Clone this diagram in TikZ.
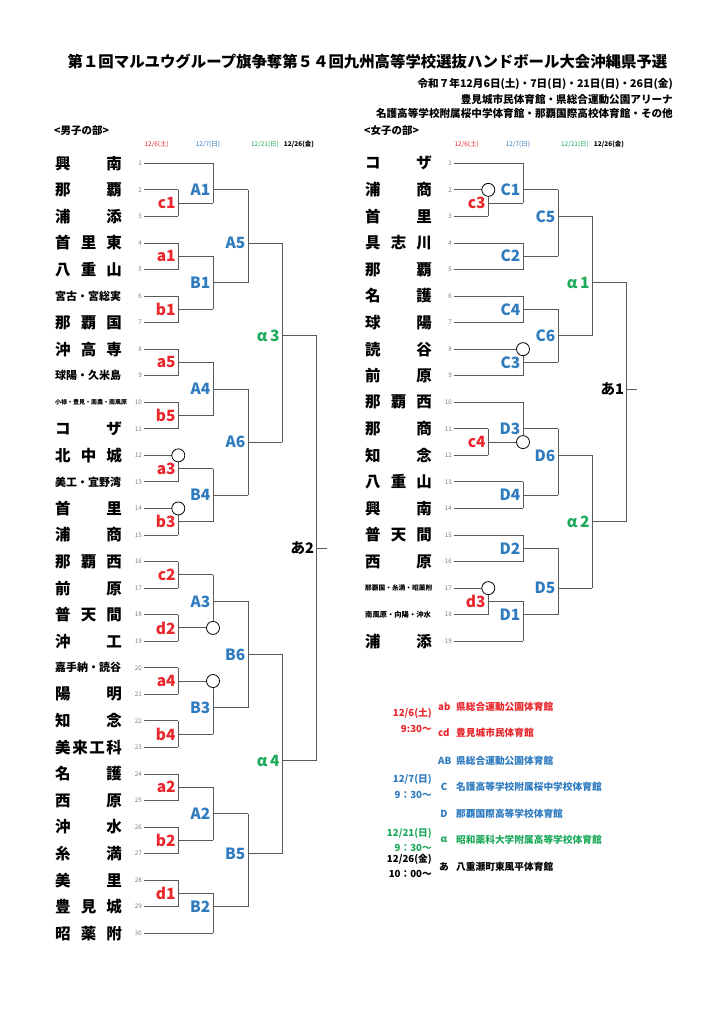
\documentclass[tikz,border=0pt]{standalone}
\usepackage{fontspec}
\setmainfont{Noto Sans CJK JP}
\definecolor{cred}{HTML}{E8262B}
\definecolor{cblue}{HTML}{2E7BBF}
\definecolor{cgreen}{HTML}{1DAA5B}
\definecolor{cline}{HTML}{5A5A5A}
\newcommand\ry[1]{163.3+(#1-1)*26.55}
\tikzset{
  br/.style={draw=cline, line width=0.9pt},
  numlab/.style={font=\fontsize{6.3}{6.5}\selectfont, text=gray, anchor=east, inner sep=0pt},
  teamname/.style={font=\fontsize{15.5}{16}\selectfont\bfseries, anchor=west, inner sep=0pt},
  redlab/.style={font=\fontsize{15.5}{16}\selectfont\bfseries, text=cred, inner sep=0pt},
  bluelab/.style={font=\fontsize{15.5}{16}\selectfont\bfseries, text=cblue, inner sep=0pt},
  greenlab/.style={font=\fontsize{15.5}{16}\selectfont\bfseries, text=cgreen, inner sep=0pt},
  blacklab/.style={font=\fontsize{14.5}{16}\selectfont\bfseries, text=black, inner sep=0pt},
  ring/.style={draw=black, line width=0.8pt, fill=white, circle, minimum size=13pt, inner sep=0pt},
  datehead/.style={font=\fontsize{6.5}{7}\selectfont, inner sep=0pt},
  leg/.style={font=\fontsize{9.7}{11}\selectfont\bfseries, inner sep=0pt},
}
% match: name, x of vertical, top row, bottom row, out row, next x, label, label style
\newcommand\mt[8]{%
  \coordinate (#1-t) at (#2,{\ry{#3}});
  \coordinate (#1-b) at (#2,{\ry{#4}});
  \coordinate (#1-o) at (#2,{\ry{#5}});
  \coordinate (#1-n) at (#6,{\ry{#5}});
  \draw[br] (#1-t) -- (#1-b);
  \draw[br] (#1-o) -- (#1-n);
  \node[#8, anchor=east] (#1) at ([xshift=-2.5pt]#1-o) {#7};
}
\newcommand\tm[3]{\node[teamname] (t#1-#2) at (#1,{\ry{#2}}) {\makebox[66.7pt][s]{#3}};}
\newcommand\tms[4]{\node[teamname, font=\fontsize{#3}{#3}\selectfont\bfseries] (t#1-#2) at (#1,{\ry{#2}}) {#4};}
\begin{document}
\begin{tikzpicture}[x=1pt,y=-1pt]
\useasboundingbox[fill=white] (0,0) rectangle (724,1024);

% ---------- title block ----------
\node[font=\fontsize{15.4}{16}\selectfont\bfseries, inner sep=0pt] (title) at (367.5,62) {第１回マルユウグループ旗争奪第５４回九州高等学校選抜ハンドボール大会沖縄県予選};
\node[font=\fontsize{10.6}{11}\selectfont\bfseries, anchor=east, inner sep=0pt] (sub1) at (673,84) {令和７年12月6日(土)・7日(日)・21日(日)・26日(金)};
\node[font=\fontsize{10.6}{11}\selectfont\bfseries, anchor=east, inner sep=0pt] (sub2) at (673,99) {豊見城市民体育館・県総合運動公園アリーナ};
\node[font=\fontsize{10.6}{11}\selectfont\bfseries, anchor=east, inner sep=0pt] (sub3) at (673,113) {名護高等学校附属桜中学体育館・那覇国際高校体育館・その他};

\node[font=\fontsize{10.5}{11}\selectfont\bfseries, anchor=west, inner sep=0pt] (hm) at (54,131) {<男子の部>};
\node[font=\fontsize{10.5}{11}\selectfont\bfseries, anchor=west, inner sep=0pt] (hw) at (364,131) {<女子の部>};

\foreach \o/\n in {0/m,310/w}{
  \node[datehead, text=cred] (\n d1) at (156.7+\o,144) {12/6(土)};
  \node[datehead, text=cblue] (\n d2) at (208+\o,144) {12/7(日)};
  \node[datehead, text=cgreen] (\n d3) at (265+\o,144) {12/21(日)};
  \node[datehead, font=\fontsize{6.5}{7}\selectfont\bfseries] (\n d4) at (299+\o,144) {12/26(金)};
}

% ---------- men: entrants ----------
\foreach \i in {1,...,30}{
  \node[numlab] (mn\i) at (142,{\ry{\i}}) {\i};
}
\foreach \i/\e in {1/213,2/178.3,3/178.3,4/178.3,5/178.3,6/178.3,7/178.3,8/178.3,9/178.3,10/178.3,11/178.3,12/178.3,13/178.3,14/178.3,15/178.3,16/178.3,17/178.3,18/178.3,19/178.3,20/178.3,21/178.3,22/178.3,23/178.3,24/178.3,25/178.3,26/178.3,27/178.3,28/178.3,29/178.3,30/213}{
  \draw[br] (144,{\ry{\i}}) -- (\e,{\ry{\i}});
}
% men matches
\mt{c1}{178.3}{2}{3}{2.5}{213}{c1}{redlab}
\mt{A1}{213}{1}{2.5}{2}{248}{A1}{bluelab}
\mt{a1}{178.3}{4}{5}{4.5}{213}{a1}{redlab}
\mt{b1}{178.3}{6}{7}{6.5}{213}{b1}{redlab}
\mt{B1}{213}{4.5}{6.5}{5.5}{248}{B1}{bluelab}
\mt{A5}{248}{2}{5.5}{4}{282.3}{A5}{bluelab}
\mt{a5}{178.3}{8}{9}{8.5}{213}{a5}{redlab}
\mt{b5}{178.3}{10}{11}{10.5}{213}{b5}{redlab}
\mt{A4}{213}{8.5}{10.5}{9.5}{248}{A4}{bluelab}
\mt{a3}{178.3}{12}{13}{12.5}{213}{a3}{redlab}
\mt{b3}{178.3}{14}{15}{14.5}{213}{b3}{redlab}
\mt{B4}{213}{12.5}{14.5}{13.5}{248}{B4}{bluelab}
\mt{A6}{248}{9.5}{13.5}{11.5}{282.3}{A6}{bluelab}
\mt{al3}{282.3}{4}{11.5}{7.5}{316.7}{α\,3}{greenlab}
\mt{c2}{178.3}{16}{17}{16.5}{213}{c2}{redlab}
\mt{d2}{178.3}{18}{19}{18.5}{213}{d2}{redlab}
\mt{A3}{213}{16.5}{18.5}{17.5}{248}{A3}{bluelab}
\mt{a4}{178.3}{20}{21}{20.5}{213}{a4}{redlab}
\mt{b4}{178.3}{22}{23}{22.5}{213}{b4}{redlab}
\mt{B3}{213}{20.5}{22.5}{21.5}{248}{B3}{bluelab}
\mt{B6}{248}{17.5}{21.5}{19.5}{282.3}{B6}{bluelab}
\mt{a2}{178.3}{24}{25}{24.5}{213}{a2}{redlab}
\mt{b2}{178.3}{26}{27}{26.5}{213}{b2}{redlab}
\mt{A2}{213}{24.5}{26.5}{25.5}{248}{A2}{bluelab}
\mt{d1}{178.3}{28}{29}{28.5}{213}{d1}{redlab}
\mt{B2}{213}{28.5}{30}{29}{248}{B2}{bluelab}
\mt{B5}{248}{25.5}{29}{27}{282.3}{B5}{bluelab}
\mt{al4}{282.3}{19.5}{27}{23.5}{316.7}{α\,4}{greenlab}
\mt{ah2}{316.7}{7.5}{23.5}{15.5}{326.7}{あ2}{blacklab}
% men circles
\node[ring] (mc1) at (178.3,{\ry{12}}) {};
\node[ring] (mc2) at (178.3,{\ry{14}}) {};
\node[ring] (mc3) at (213,{\ry{18.5}}) {};
\node[ring] (mc4) at (213,{\ry{20.5}}) {};

% men names
\tm{55}{1}{興\hfill 南}
\tm{55}{2}{那\hfill 覇}
\tm{55}{3}{浦\hfill 添}
\tm{55}{4}{首\hfill 里\hfill 東}
\tm{55}{5}{八\hfill 重\hfill 山}
\tms{55}{6}{11}{宮古・宮総実}
\tm{55}{7}{那\hfill 覇\hfill 国}
\tm{55}{8}{沖\hfill 高\hfill 専}
\tms{55}{9}{11}{球陽・久米島}
\tms{55}{10}{6}{小禄・豊見・南農・南風原}
\tm{55}{11}{コ\hfill ザ}
\tm{55}{12}{北\hfill 中\hfill 城}
\tms{55}{13}{11}{美工・宜野湾}
\tm{55}{14}{首\hfill 里}
\tm{55}{15}{浦\hfill 商}
\tm{55}{16}{那\hfill 覇\hfill 西}
\tm{55}{17}{前\hfill 原}
\tm{55}{18}{普\hfill 天\hfill 間}
\tm{55}{19}{沖\hfill 工}
\tms{55}{20}{11}{嘉手納・読谷}
\tm{55}{21}{陽\hfill 明}
\tm{55}{22}{知\hfill 念}
\tm{55}{23}{美\hfill 来\hfill 工\hfill 科}
\tm{55}{24}{名\hfill 護}
\tm{55}{25}{西\hfill 原}
\tm{55}{26}{沖\hfill 水}
\tm{55}{27}{糸\hfill 満}
\tm{55}{28}{美\hfill 里}
\tm{55}{29}{豊\hfill 見\hfill 城}
\tm{55}{30}{昭\hfill 薬\hfill 附}

% ---------- women: entrants ----------
\foreach \i in {1,...,19}{
  \node[numlab] (wn\i) at (452,{\ry{\i}}) {\i};
}
\foreach \i/\e in {1/523,2/488.3,3/488.3,4/523,5/523,6/523,7/523,8/523,9/523,10/523,11/488.3,12/488.3,13/523,14/523,15/523,16/523,17/488.3,18/488.3,19/523}{
  \draw[br] (454,{\ry{\i}}) -- (\e,{\ry{\i}});
}
\mt{c3}{488.3}{2}{3}{2.5}{523}{c3}{redlab}
\mt{C1}{523}{1}{2.5}{2}{558}{C1}{bluelab}
\mt{C2}{523}{4}{5}{4.5}{558}{C2}{bluelab}
\mt{C5}{558}{2}{4.5}{3}{592.3}{C5}{bluelab}
\mt{C4}{523}{6}{7}{6.5}{558}{C4}{bluelab}
\mt{C3}{523}{8}{9}{8.5}{558}{C3}{bluelab}
\mt{C6}{558}{6.5}{8.5}{7.5}{592.3}{C6}{bluelab}
\mt{al1}{592.3}{3}{7.5}{5.5}{626.7}{α\,1}{greenlab}
\mt{c4}{488.3}{11}{12}{11.5}{523}{c4}{redlab}
\mt{D3}{523}{10}{11.5}{11}{558}{D3}{bluelab}
\mt{D4}{523}{13}{14}{13.5}{558}{D4}{bluelab}
\mt{D6}{558}{11}{13.5}{12}{592.3}{D6}{bluelab}
\mt{D2}{523}{15}{16}{15.5}{558}{D2}{bluelab}
\mt{d3}{488.3}{17}{18}{17.5}{523}{d3}{redlab}
\mt{D1}{523}{17.5}{19}{18}{558}{D1}{bluelab}
\mt{D5}{558}{15.5}{18}{17}{592.3}{D5}{bluelab}
\mt{al2}{592.3}{12}{17}{14.5}{626.7}{α\,2}{greenlab}
\mt{ah1}{626.7}{5.5}{14.5}{9.5}{636.7}{あ1}{blacklab}
% women circles
\node[ring] (wc1) at (488.3,{\ry{2}}) {};
\node[ring] (wc2) at (523,{\ry{8}}) {};
\node[ring] (wc3) at (523,{\ry{11.5}}) {};
\node[ring] (wc4) at (488.3,{\ry{17}}) {};

% women names
\tm{365}{1}{コ\hfill ザ}
\tm{365}{2}{浦\hfill 商}
\tm{365}{3}{首\hfill 里}
\tm{365}{4}{具\hfill 志\hfill 川}
\tm{365}{5}{那\hfill 覇}
\tm{365}{6}{名\hfill 護}
\tm{365}{7}{球\hfill 陽}
\tm{365}{8}{読\hfill 谷}
\tm{365}{9}{前\hfill 原}
\tm{365}{10}{那\hfill 覇\hfill 西}
\tm{365}{11}{那\hfill 商}
\tm{365}{12}{知\hfill 念}
\tm{365}{13}{八\hfill 重\hfill 山}
\tm{365}{14}{興\hfill 南}
\tm{365}{15}{普\hfill 天\hfill 間}
\tm{365}{16}{西\hfill 原}
\tms{365}{17}{6.7}{那覇国・糸満・昭薬附}
\tms{365}{18}{7.3}{南風原・向陽・沖水}
\tm{365}{19}{浦\hfill 添}

% ---------- legend ----------
\node[leg, text=cred, anchor=east] (l1) at (432,713) {12/6(土)};
\node[leg, text=cred, anchor=east] (l2) at (432,729) {9:30～};
\node[leg, text=cred, anchor=west] (l3) at (438,707) {ab};
\node[leg, text=cred, anchor=west] (l4) at (456,707) {県総合運動公園体育館};
\node[leg, text=cred, anchor=west] (l5) at (438,733) {cd};
\node[leg, text=cred, anchor=west] (l6) at (456,733) {豊見城市民体育館};
\node[leg, text=cblue, anchor=west] (l7) at (438,761) {AB};
\node[leg, text=cblue, anchor=west] (l8) at (456,761) {県総合運動公園体育館};
\node[leg, text=cblue, anchor=east] (l9) at (432,779) {12/7(日)};
\node[leg, text=cblue, anchor=east] (l10) at (432,795) {9：30～};
\node[leg, text=cblue] (l11) at (444,787) {C};
\node[leg, text=cblue, anchor=west] (l12) at (456,787) {名護高等学校附属桜中学校体育館};
\node[leg, text=cblue] (l13) at (444,814) {D};
\node[leg, text=cblue, anchor=west] (l14) at (456,814) {那覇国際高等学校体育館};
\node[leg, text=cgreen, anchor=east] (l15) at (432,833) {12/21(日)};
\node[leg, text=cgreen, anchor=east] (l16) at (432,848) {9：30～};
\node[leg, text=cgreen] (l17) at (444,840) {α};
\node[leg, text=cgreen, anchor=west] (l18) at (456,840) {昭和薬科大学附属高等学校体育館};
\node[leg, anchor=east] (l19) at (432,859) {12/26(金)};
\node[leg, anchor=east] (l20) at (432,874) {10：00～};
\node[leg] (l21) at (444,867) {あ};
\node[leg, anchor=west] (l22) at (456,867) {八重瀬町東風平体育館};
\end{tikzpicture}
\end{document}
